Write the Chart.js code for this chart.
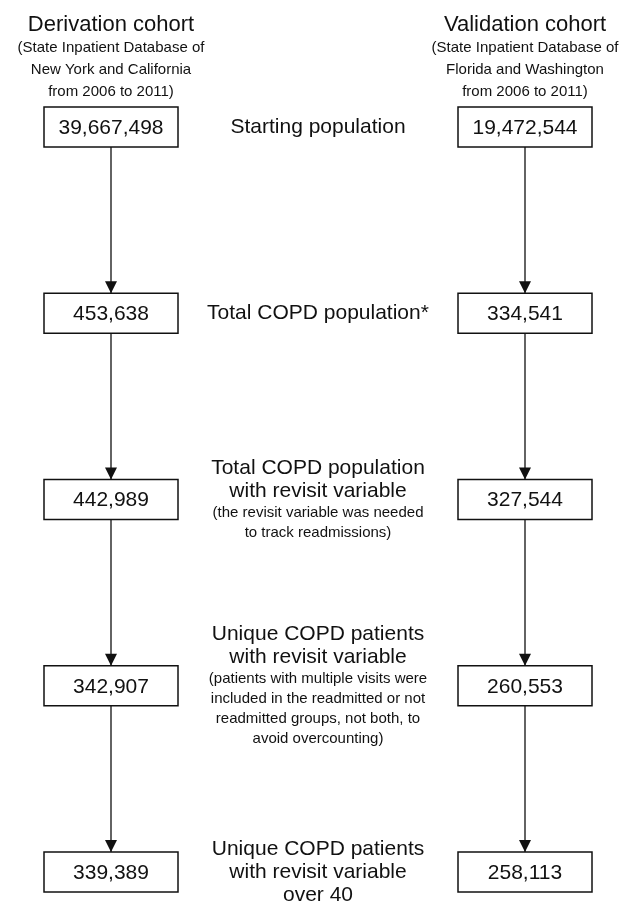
<!DOCTYPE html>
<html>
<head>
<meta charset="utf-8">
<script src="https://cdn.jsdelivr.net/npm/chart.js@4.4.1/dist/chart.umd.min.js"></script>
<style>
    html, body { margin: 0; padding: 0; background: #fff; }
    #wrap { width: 625px; height: 907px; }
</style>
</head>
<body>
<div id="wrap"><canvas id="flow" width="625" height="907"></canvas></div>
<script>
// values
const cohortTitles = ['Derivation cohort', 'Validation cohort'];
const cohortSources = [
    ['(State Inpatient Database of', 'New York and California', 'from 2006 to 2011)'],
    ['(State Inpatient Database of', 'Florida and Washington', 'from 2006 to 2011)']
];
const derivationCounts = [39667498, 453638, 442989, 342907, 339389];
const validationCounts = [19472544, 334541, 327544, 260553, 258113];
const stageLabels = [
    ['Starting population'],
    ['Total COPD population*'],
    ['Total COPD population', 'with revisit variable'],
    ['Unique COPD patients', 'with revisit variable'],
    ['Unique COPD patients', 'with revisit variable', 'over 40']
];
const stageNotes = [
    [],
    [],
    ['(the revisit variable was needed', 'to track readmissions)'],
    ['(patients with multiple visits were', 'included in the readmitted or not', 'readmitted groups, not both, to', 'avoid overcounting)'],
    []
];
const cohortX = [0, 1];

const FONT = '"Liberation Sans", Arial, Helvetica, sans-serif';
const INK = '#111';

// pixel layout of the scales (x: cohort column, y: stage)
const leftPx = 111, rightPx = 525, firstPx = 127, stepPx = 186.25;
const xUnit = rightPx - leftPx;

function fmt(n) {
    return n.toLocaleString('en-US');
}

const flowPlugin = {
    id: 'flow',
    afterDatasetsDraw: function (chart) {
        const ctx = chart.ctx;
        const xs = chart.scales.x, ys = chart.scales.y;
        const boxW = 134, boxH = 40;
        const counts = [derivationCounts, validationCounts];
        ctx.save();
        ctx.textAlign = 'center';
        ctx.textBaseline = 'middle';

        // cohort headers
        cohortX.forEach(function (cx, c) {
            const px = xs.getPixelForValue(cx);
            const top = ys.getPixelForValue(0) - boxH / 2;
            ctx.fillStyle = INK;
            ctx.font = '22px ' + FONT;
            ctx.fillText(cohortTitles[c], px, top - 82);
            ctx.font = '15px ' + FONT;
            cohortSources[c].forEach(function (line, j) {
                ctx.fillText(line, px, top - 59 + j * 22);
            });
        });

        stageLabels.forEach(function (lines, i) {
            const cy = ys.getPixelForValue(i);
            counts.forEach(function (arr, c) {
                const px = xs.getPixelForValue(cohortX[c]);
                // box
                ctx.fillStyle = '#fff';
                ctx.fillRect(px - boxW / 2, cy - boxH / 2, boxW, boxH);
                ctx.lineWidth = 1.5;
                ctx.strokeStyle = INK;
                ctx.strokeRect(px - boxW / 2, cy - boxH / 2, boxW, boxH);
                ctx.fillStyle = INK;
                ctx.font = '21px ' + FONT;
                ctx.fillText(fmt(arr[i]), px, cy + 1);
                // arrow head on top of every box but the first
                if (i > 0) {
                    const tip = cy - boxH / 2;
                    ctx.beginPath();
                    ctx.moveTo(px, tip);
                    ctx.lineTo(px - 6, tip - 12);
                    ctx.lineTo(px + 6, tip - 12);
                    ctx.closePath();
                    ctx.fill();
                }
            });

            // middle description, block centred on the box row
            const mx = xs.getPixelForValue(0.5);
            const notes = stageNotes[i];
            const blockH = lines.length * 23 + notes.length * 20;
            let y = cy - blockH / 2;
            ctx.fillStyle = INK;
            ctx.font = '21px ' + FONT;
            lines.forEach(function (t) {
                ctx.fillText(t, mx, y + 11.5);
                y += 23;
            });
            ctx.font = '15px ' + FONT;
            notes.forEach(function (t) {
                ctx.fillText(t, mx, y + 10);
                y += 20;
            });
        });
        ctx.restore();
    }
};

const connector = function (c) {
    return {
        label: cohortTitles[c],
        data: stageLabels.map(function (s, i) { return { x: cohortX[c], y: i }; }),
        borderColor: INK,
        borderWidth: 1.3,
        pointRadius: 0,
        showLine: true,
        fill: false
    };
};

new Chart(document.getElementById('flow'), {
    type: 'scatter',
    data: {
        datasets: [connector(0), connector(1)]
    },
    plugins: [flowPlugin],
    options: {
        responsive: false,
        animation: false,
        layout: { padding: 0 },
        plugins: {
            legend: { display: false },
            tooltip: { enabled: false }
        },
        scales: {
            x: {
                type: 'linear',
                display: false,
                min: -leftPx / xUnit,
                max: (625 - leftPx) / xUnit
            },
            y: {
                type: 'linear',
                display: false,
                reverse: true,
                min: -firstPx / stepPx,
                max: (907 - firstPx) / stepPx
            }
        }
    }
});
</script>
</body>
</html>
